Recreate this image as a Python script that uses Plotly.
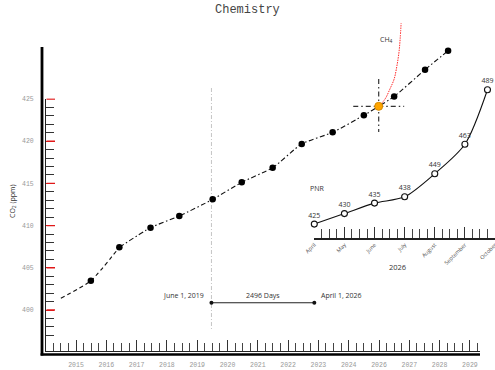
import plotly.graph_objects as go

W, H = 495, 370

# ---------------- data ----------------
co2_years = [2015.49, 2016.43, 2017.46, 2018.41, 2019.51, 2020.47, 2021.49,
             2022.45, 2023.47, 2024.50, 2024.99, 2025.50, 2026.52, 2027.28]
co2_ppm = [403.47, 407.43, 409.75, 411.14, 413.11, 415.13, 416.86,
           419.67, 421.05, 423.07, 424.13, 425.30, 428.47, 430.72]
trend_start_year = 2014.50
trend_start_ppm = 401.40
dash_split = 1          # dashed up to this point index, dash-dot after
marked_index = 10       # highlighted (orange) point

ch4_years = [2024.99, 2025.20, 2025.36, 2025.50, 2025.59, 2025.66, 2025.70, 2025.73]
ch4_ppm = [424.13, 425.00, 426.18, 427.37, 428.91, 430.57, 432.23, 434.00]
ch4_label = "CH<sub>4</sub>"
ch4_label_pos = (2025.25, 432.1)

x_tick_years = list(range(2015, 2029))
x_tick_labels = ["2015", "2016", "2017", "2018", "2019", "2020", "2021",
                 "2022", "2023", "2024", "2026", "2027", "2028", "2029"]
x_minor_start = 2014.5
y_tick_vals = [400, 405, 410, 415, 420, 425]
y_minor_vals = [v for v in range(397, 425) if v % 5 != 0]

event_years = [2019.47, 2022.865]
event_labels = ["June 1, 2019", "April 1, 2026"]
event_level = 400.86
span_label = "2496 Days"
guide_ppm = [426.3, 397.6]

cross_half_x = 0.84
cross_up, cross_down = 3.24, 3.04

pnr_months = [0, 1, 2, 3, 4, 5, 5.75]
pnr_values = [425, 430, 435, 438, 449, 463, 489]
month_names = ["April", "May", "June", "July", "August", "September", "October"]
pnr_title = "PNR"
pnr_year = "2026"

# ---------------- pixel scale helpers (layout) ----------------
def yr_at(px):
    return 2015 + (px - 76) / 30.3

def ppm_at(py):
    return 400 + (310 - py) / 8.44

def inset_v_at(py):
    return 425 + (224.1 - py) / 2.1

MONO = "Liberation Mono"
SANS = "Open Sans"

fig = go.Figure()

# main series line (dashed then dash-dot)
fig.add_trace(go.Scatter(
    x=[trend_start_year] + co2_years[:dash_split + 1],
    y=[trend_start_ppm] + co2_ppm[:dash_split + 1],
    mode="lines", line=dict(color="#111", width=1.1, dash="4px,3px", shape="spline", smoothing=0.6),
    hoverinfo="skip", showlegend=False))
fig.add_trace(go.Scatter(
    x=co2_years[dash_split:], y=co2_ppm[dash_split:],
    mode="lines", line=dict(color="#111", width=1.1, dash="5px,2.5px,1.5px,2.5px", shape="spline", smoothing=0.6),
    hoverinfo="skip", showlegend=False))

# vertical guide at first event
fig.add_trace(go.Scatter(
    x=[event_years[0], event_years[0]], y=guide_ppm, mode="lines",
    line=dict(color="#c4c4c4", width=1, dash="4px,2px,1px,2px"),
    hoverinfo="skip", showlegend=False))

# span between events
fig.add_trace(go.Scatter(
    x=event_years, y=[event_level, event_level], mode="lines+markers",
    line=dict(color="#222", width=1.1), marker=dict(color="#111", size=4),
    hoverinfo="skip", showlegend=False))

# CH4 curve
fig.add_trace(go.Scatter(
    x=ch4_years, y=ch4_ppm, mode="lines",
    line=dict(color="#ff2a2a", width=1, dash="1.5px,1px", shape="spline"),
    hoverinfo="skip", showlegend=False))

# crosshair around marked point
mx, my = co2_years[marked_index], co2_ppm[marked_index]
fig.add_trace(go.Scatter(
    x=[mx - cross_half_x, mx + cross_half_x, None, mx, mx],
    y=[my, my, None, my + cross_up, my - cross_down],
    mode="lines", line=dict(color="#333", width=1.2, dash="5px,3px,1.5px,3px"),
    hoverinfo="skip", showlegend=False))

# markers
others = [i for i in range(len(co2_years)) if i != marked_index]
fig.add_trace(go.Scatter(
    x=[co2_years[i] for i in others], y=[co2_ppm[i] for i in others],
    mode="markers", marker=dict(color="#000", size=6.5),
    hoverinfo="skip", showlegend=False, cliponaxis=False))
fig.add_trace(go.Scatter(
    x=[mx], y=[my], mode="markers",
    marker=dict(color="#FFA500", size=8, line=dict(color="#d88a00", width=1)),
    hoverinfo="skip", showlegend=False))

# inset PNR
fig.add_trace(go.Scatter(
    x=pnr_months, y=pnr_values, xaxis="x2", yaxis="y2",
    mode="lines+markers+text", text=[str(v) for v in pnr_values],
    textposition="top center", textfont=dict(family=SANS, size=7, color="#333"),
    line=dict(color="#111", width=1.1, shape="spline", smoothing=0.8),
    marker=dict(symbol="circle", size=6, color="white", line=dict(color="#111", width=1.1)),
    cliponaxis=False, hoverinfo="skip", showlegend=False))

# invisible trace to hold tick-axes subplot
fig.add_trace(go.Scatter(
    x=[x_tick_years[0]], y=[y_tick_vals[0]], xaxis="x3", yaxis="y3",
    mode="markers", marker=dict(opacity=0), hoverinfo="skip", showlegend=False))

annotations = [
    dict(text="Chemistry", x=0.5, xref="paper", y=(H - 10) / H, yref="paper",
         showarrow=False, font=dict(family=MONO, size=12, color="#444"),
         xanchor="center", yanchor="middle"),
    dict(text="CO<sub>2</sub> (ppm)", x=12 / W, xref="paper", y=(H - 201) / H, yref="paper",
         showarrow=False, textangle=-90, font=dict(family=SANS, size=7, color="#333"),
         xanchor="center", yanchor="middle"),
    dict(text=event_labels[0], x=event_years[0], y=event_level, xref="x", yref="y",
         showarrow=False, xanchor="right", yanchor="middle", xshift=-5, yshift=7,
         font=dict(family=SANS, size=7, color="#333")),
    dict(text=event_labels[1], x=event_years[1], y=event_level, xref="x", yref="y",
         showarrow=False, xanchor="left", yanchor="middle", xshift=5, yshift=7,
         font=dict(family=SANS, size=7, color="#333")),
    dict(text=span_label, x=sum(event_years) / 2, y=event_level, xref="x", yref="y",
         showarrow=False, xanchor="center", yanchor="middle", yshift=7,
         font=dict(family=SANS, size=7, color="#333")),
    dict(text=ch4_label, x=ch4_label_pos[0], y=ch4_label_pos[1], xref="x", yref="y",
         showarrow=False, xanchor="center", yanchor="middle",
         font=dict(family=SANS, size=7, color="#333")),
    dict(text=pnr_title, x=316.7 / W, y=(H - 188.3) / H, xref="paper", yref="paper",
         showarrow=False, xanchor="center", yanchor="middle",
         font=dict(family=SANS, size=7, color="#333")),
    dict(text=pnr_year, x=397.3 / W, y=(H - 266.7) / H, xref="paper", yref="paper",
         showarrow=False, xanchor="center", yanchor="middle",
         font=dict(family=SANS, size=7.5, color="#333")),
]

shapes = [
    # thick outer frame
    dict(type="line", xref="paper", yref="paper", x0=42 / W, x1=42 / W,
         y0=(H - 355.5) / H, y1=(H - 47) / H, line=dict(color="#000", width=2.8)),
    dict(type="line", xref="paper", yref="paper", x0=40.6 / W, x1=480 / W,
         y0=(H - 354.5) / H, y1=(H - 354.5) / H, line=dict(color="#000", width=2.6)),
]
# red major ticks (every 5 ppm) on the left axis
for v in y_tick_vals:
    shapes.append(dict(type="line", xref="paper", yref="y3", x0=46.5 / W, x1=55 / W,
                       y0=v, y1=v, line=dict(color="#e01818", width=1.4), layer="above"))

y3_range = [ppm_at(351), ppm_at(98.5)]

fig.update_layout(
    width=W, height=H, autosize=False,
    margin=dict(l=0, r=0, t=0, b=0, pad=0, autoexpand=False),
    paper_bgcolor="white", plot_bgcolor="rgba(0,0,0,0)",
    showlegend=False,
    xaxis=dict(domain=[0, 1], range=[yr_at(0), yr_at(W)], visible=False, automargin=False),
    yaxis=dict(domain=[0, 1], range=[ppm_at(H), ppm_at(0)], visible=False, automargin=False),
    xaxis2=dict(domain=[314.3 / W, 1], range=[0, 6], anchor="y2", automargin=False,
                showline=True, linecolor="#222", linewidth=1.2,
                showgrid=False, zeroline=False,
                tickmode="array", tickvals=list(range(7)), ticktext=month_names,
                ticks="inside", ticklen=11, tickwidth=1, tickcolor="#333",
                minor=dict(tickmode="linear", tick0=0, dtick=0.25, ticks="inside",
                           ticklen=9, tickwidth=1, tickcolor="#444"),
                ticklabeloverflow="allow",
                tickangle=-45, tickfont=dict(family=SANS, size=5.5, color="#555")),
    yaxis2=dict(domain=[(H - 238.3) / H, 1], range=[inset_v_at(238.3), inset_v_at(0)],
                anchor="x2", visible=False, automargin=False),
    xaxis3=dict(domain=[46 / W, 480 / W], range=[yr_at(46), yr_at(480)], anchor="y3",
                automargin=False,
                showline=True, linecolor="#222", linewidth=1,
                showgrid=False, zeroline=False,
                tickmode="array", tickvals=x_tick_years, ticktext=x_tick_labels,
                ticks="inside", ticklen=11, tickwidth=1, tickcolor="#333",
                minor=dict(tickmode="linear", tick0=x_minor_start, dtick=0.25, ticks="inside",
                           ticklen=8, tickwidth=1, tickcolor="#444"),
                ticklabelstandoff=7, ticklabeloverflow="allow",
                tickfont=dict(family=MONO, size=6.5, color="#999")),
    yaxis3=dict(domain=[(H - 351) / H, (H - 98.5) / H], range=y3_range,
                anchor="x3", automargin=False,
                showline=True, linecolor="#222", linewidth=1,
                showgrid=False, zeroline=False,
                tickmode="array", tickvals=y_tick_vals, ticktext=[str(v) for v in y_tick_vals],
                ticks="inside", ticklen=8, tickwidth=1, tickcolor="#e01818",
                minor=dict(tickmode="array", tickvals=y_minor_vals, ticks="inside",
                           ticklen=8, tickwidth=1, tickcolor="#333"),
                ticklabelstandoff=10, ticklabeloverflow="allow",
                tickfont=dict(family=MONO, size=6.5, color="#999")),
    annotations=annotations,
    shapes=shapes,
)

fig.write_html("out.html", config={"displayModeBar": False, "staticPlot": True},
               post_script="document.body.style.margin='0';document.body.style.overflow='hidden';")
